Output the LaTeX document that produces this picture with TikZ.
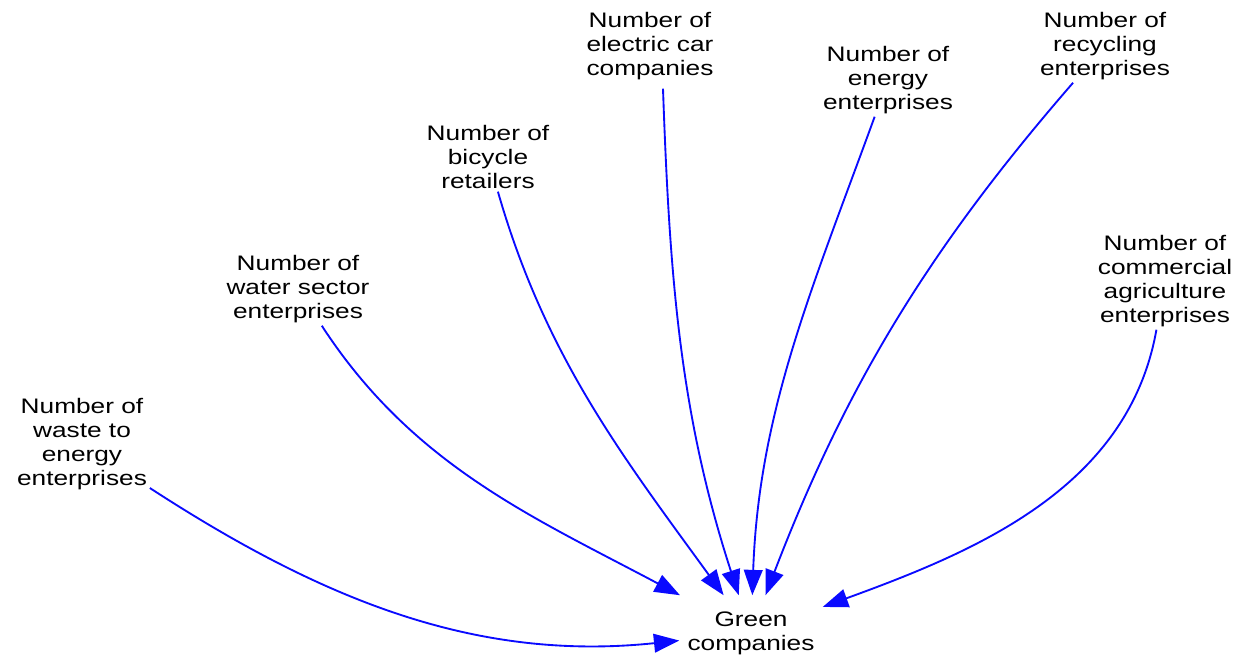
\documentclass[tikz,border=0pt]{standalone}
\usepackage{fontspec}
\setmainfont[FakeStretch=1.25]{Liberation Sans}
\usepackage{tikz}
\usetikzlibrary{arrows.meta, positioning}
\definecolor{linkblue}{RGB}{10,10,255}
\tikzset{
	vartext/.style={font=\fontsize{15.75}{18}\selectfont, align=center, inner sep=2pt}
}
\tikzset{
	targetvar/.style={vartext, inner xsep=6pt, inner ysep=12pt}
}
\tikzset{
	link/.style={->, linkblue, line width=1.4pt, looseness=0.95}
}

\begin{document}
\begin{tikzpicture}[x=0.75pt, y=-0.75pt, >={Triangle[length=19pt,width=14pt]}]
      \useasboundingbox (0,0) rectangle (1250,658);
      % source variables
      \node[vartext] (waste) at (82,444) {Number of\\waste to\\energy\\enterprises};
      \node[vartext] (water) at (298,289) {Number of\\water sector\\enterprises};
      \node[vartext] (bicycle) at (488,157) {Number of\\bicycle\\retailers};
      \node[vartext] (ecar) at (650,46) {Number of\\electric car\\companies};
      \node[vartext] (energy) at (888,80) {Number of\\energy\\enterprises};
      \node[vartext] (recycle) at (1105,46) {Number of\\recycling\\enterprises};
      \node[vartext] (agri) at (1165,281) {Number of\\commercial\\agriculture\\enterprises};
      % target variable
      \node[targetvar] (green) at (751,633) {Green\\companies};
      % links into the target
      \draw[link] (waste) to[out=-33, in=186] (green);
      \draw[link] (water) to[out=-57, in=152] (green);
      \draw[link] (bicycle) to[out=-74, in=126] (green);
      \draw[link] (ecar.south) ++(13,6) to[out=-88, in=108] (green);
      \draw[link] (energy) to[out=-110, in=88] (green);
      \draw[link] (recycle) to[out=-131, in=69] (green);
      \draw[link] (agri) to[out=-100, in=20] (green);
\end{tikzpicture}
\end{document}
